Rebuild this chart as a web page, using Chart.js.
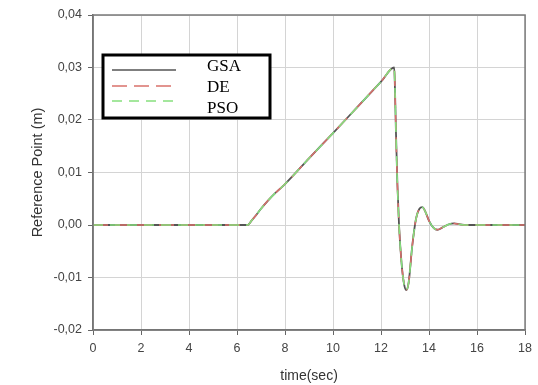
<!doctype html>
<html lang="en">
<head>
<meta charset="utf-8">
<style>
  html, body { margin: 0; padding: 0; background: #fff; }
  #wrap { width: 538px; height: 385px; }
</style>
</head>
<body>
<div id="wrap"><canvas id="lineChart"></canvas></div>

<script src="https://cdn.jsdelivr.net/npm/chart.js"></script>
<script>
// time axis (sec) and response of the reference point (m)
var time = [0, 6.3, 6.45, 6.6, 6.8, 7.0, 7.3, 7.6, 8.0, 9.0, 10.0, 11.0, 12.0, 12.55,
            12.58, 12.62, 12.68, 12.75, 12.85, 12.95, 13.05, 13.15, 13.3, 13.45, 13.6,
            13.72, 13.85, 14.0, 14.2, 14.35, 14.55, 14.8, 15.05, 15.3, 15.6, 18];
var gsa = [0, 0, 0, 0.0008, 0.0019, 0.0031, 0.0047, 0.0061, 0.0078, 0.0127, 0.0175, 0.0224, 0.0273, 0.0300,
           0.026, 0.018, 0.008, 0.0, -0.007, -0.011, -0.0124, -0.011, -0.004, 0.001, 0.0031,
           0.0034, 0.0025, 0.0008, -0.0006, -0.0009, -0.0005, 0.0001, 0.0003, 0.0001, 0, 0];
var de = gsa.slice();
var pso = gsa.slice();

var seriesNames = ['GSA', 'DE', 'PSO'];
var yTicks = [-0.02, -0.01, 0.00, 0.01, 0.02, 0.03, 0.04];

function points(values) {
    return time.map(function (t, i) { return { x: t, y: values[i] }; });
}

var axisFont = '"Liberation Sans", Arial, sans-serif';

// plot frame + boxed legend in the upper left
var framePlugin = {
    id: 'frame',
    afterDatasetsDraw: function (chart) {
        var ctx = chart.ctx, a = chart.chartArea;
        ctx.save();
        ctx.strokeStyle = '#7a7a7a';
        ctx.lineWidth = 1.5;
        ctx.strokeRect(a.left, a.top, a.right - a.left, a.bottom - a.top);

        // legend box
        var bx = 103, by = 55, bw = 167, bh = 63;
        ctx.fillStyle = '#fff';
        ctx.fillRect(bx, by, bw, bh);
        ctx.strokeStyle = '#000';
        ctx.lineWidth = 3;
        ctx.strokeRect(bx, by, bw, bh);

        var lineY = [70, 86, 101];
        var textY = [67, 88, 109];
        chart.data.datasets.forEach(function (ds, i) {
            ctx.beginPath();
            ctx.setLineDash(ds.borderDash || []);
            ctx.strokeStyle = ds.borderColor;
            ctx.lineWidth = 1.5;
            ctx.moveTo(112, lineY[i]);
            ctx.lineTo(176, lineY[i]);
            ctx.stroke();
            ctx.setLineDash([]);
            ctx.fillStyle = '#000';
            ctx.font = '17px "Liberation Serif", "Times New Roman", serif';
            ctx.textBaseline = 'middle';
            ctx.fillText(ds.label, 207, textY[i]);
        });
        ctx.restore();
    }
};

var ctx = document.getElementById('lineChart').getContext('2d');
window.myLine = new Chart(ctx, {
    type: 'line',
    data: {
        datasets: [{
            label: seriesNames[0],
            data: points(gsa),
            borderColor: '#555555',
            borderWidth: 1.8,
            pointRadius: 0,
            order: 3,
            cubicInterpolationMode: 'monotone'
        }, {
            label: seriesNames[1],
            data: points(de),
            borderColor: '#d9716b',
            borderWidth: 1.5,
            borderDash: [15, 7],
            pointRadius: 0,
            order: 2,
            cubicInterpolationMode: 'monotone'
        }, {
            label: seriesNames[2],
            data: points(pso),
            borderColor: '#86e07e',
            borderWidth: 1.5,
            borderDash: [10, 7],
            pointRadius: 0,
            order: 1,
            cubicInterpolationMode: 'monotone'
        }]
    },
    options: {
        responsive: true,
        maintainAspectRatio: false,
        animation: false,
        layout: { padding: { top: 15, right: 8, left: 0, bottom: 0 } },
        plugins: {
            legend: { display: false },
            tooltip: { enabled: false }
        },
        scales: {
            x: {
                type: 'linear',
                min: 0,
                max: 18,
                afterFit: function (s) { s.height = 55; },
                ticks: {
                    stepSize: 2,
                    padding: 6,
                    color: '#444',
                    font: { family: axisFont, size: 12.5 }
                },
                grid: { color: '#d4d4d4', lineWidth: 1, tickLength: 5, tickColor: '#666' },
                border: { color: '#6a6a6a', width: 1.5 },
                title: {
                    display: true,
                    text: 'time(sec)',
                    color: '#333',
                    padding: { top: 0, bottom: 0 },
                    font: { family: axisFont, size: 14 }
                }
            },
            y: {
                min: -0.02,
                max: 0.04,
                afterFit: function (s) { s.width = 93; },
                afterBuildTicks: function (s) {
                    s.ticks = yTicks.map(function (v) { return { value: v }; });
                },
                ticks: {
                    padding: 6,
                    color: '#444',
                    font: { family: axisFont, size: 12.5 },
                    callback: function (v) { return v.toFixed(2).replace('.', ','); }
                },
                grid: { color: '#d4d4d4', lineWidth: 1, tickLength: 5, tickColor: '#666' },
                border: { color: '#6a6a6a', width: 1.5 },
                title: {
                    display: true,
                    text: 'Reference Point (m)',
                    color: '#333',
                    padding: { top: 29, bottom: 0 },
                    font: { family: axisFont, size: 14.5 }
                }
            }
        }
    },
    plugins: [framePlugin]
});
</script>
</body>
</html>
